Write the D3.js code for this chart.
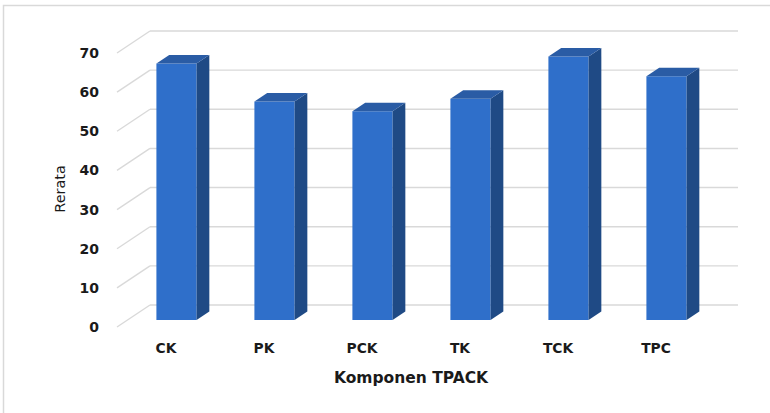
<!DOCTYPE html>
<html>
<head>
<meta charset="utf-8">
<script src="https://cdn.jsdelivr.net/npm/d3@7"></script>
<style>
  html, body { margin: 0; padding: 0; background: #fff; }
  svg { display: block; }
</style>
</head>
<body>
<svg id="chart" width="770" height="413"></svg>
<script>
// Mean score per TPACK component
const categories = ["CK", "PK", "PCK", "TK", "TCK", "TPC"];
const values = [65.5, 55.8, 53.3, 56.5, 67.3, 62.3];
const yTicks = [0, 10, 20, 30, 40, 50, 60, 70];
const xTitle = "Komponen TPACK";
const yTitle = "Rerata";

const svg = d3.select("#chart");
const W = 770, H = 413;

// oblique 3D projection: depth d (px of vertical drop) shifts points left by SLOPE*d
const SLOPE = 1.5;
const FLOOR_D = 22;     // front edge of the floor
const BAR_FRONT = 15;   // front face of each column
const BAR_BACK = 6.5;   // back face of each column
const proj = (x, y, d) => [x - SLOPE * d, y + d];

// scales on the back wall
const x = d3.scaleBand().domain(categories).range([150, 738]).paddingInner(0.59).paddingOuter(0.295);
const y = d3.scaleLinear().domain([0, 70]).range([305, 31]);

// frame
svg.append("rect").attr("width", W).attr("height", H).attr("fill", "#fff");
svg.append("path")
  .attr("d", `M3.5,${H + 5}V5.5H${W + 5}`)
  .attr("fill", "none").attr("stroke", "#d9d9d9").attr("stroke-width", 1.5);

// gridlines: back wall + side wall diagonals
const grid = svg.append("g").attr("stroke", "#d9d9d9").attr("stroke-width", 1.4).attr("fill", "none");
grid.selectAll("line.back").data(yTicks).join("line")
  .attr("class", "back")
  .attr("x1", 150).attr("x2", 738)
  .attr("y1", d => y(d)).attr("y2", d => y(d));
grid.selectAll("line.side").data(yTicks).join("line")
  .attr("class", "side")
  .attr("x1", 150).attr("y1", d => y(d))
  .attr("x2", d => proj(150, y(d), FLOOR_D)[0])
  .attr("y2", d => proj(150, y(d), FLOOR_D)[1]);

// columns
const bars = svg.append("g");
const cols = categories.map((c, i) => ({ c, v: values[i] }));
const g = bars.selectAll("g").data(cols).join("g");

g.append("path") // front face
  .attr("fill", "#2F6FCA")
  .attr("d", d => {
    const xl = x(d.c), xr = x(d.c) + x.bandwidth();
    const a = proj(xl, y(d.v), BAR_FRONT), b = proj(xr, y(d.v), BAR_FRONT);
    const c = proj(xr, y(0), BAR_FRONT), e = proj(xl, y(0), BAR_FRONT);
    return `M${a}L${b}L${c}L${e}Z`;
  });
g.append("path") // right side
  .attr("fill", "#1F4A85")
  .attr("d", d => {
    const xr = x(d.c) + x.bandwidth();
    const a = proj(xr, y(d.v), BAR_FRONT), b = proj(xr, y(d.v), BAR_BACK);
    const c = proj(xr, y(0), BAR_BACK), e = proj(xr, y(0), BAR_FRONT);
    return `M${a}L${b}L${c}L${e}Z`;
  });
g.append("path") // top
  .attr("fill", "#2A5CA5")
  .attr("d", d => {
    const xl = x(d.c), xr = x(d.c) + x.bandwidth();
    const a = proj(xl, y(d.v), BAR_FRONT), b = proj(xr, y(d.v), BAR_FRONT);
    const c = proj(xr, y(d.v), BAR_BACK), e = proj(xl, y(d.v), BAR_BACK);
    return `M${a}L${b}L${c}L${e}Z`;
  });

const font = "'DejaVu Sans', Verdana, sans-serif";

// value axis on the front plane
const yAxis = svg.append("g")
  .attr("transform", `translate(${150 - SLOPE * FLOOR_D},${FLOOR_D})`)
  .call(d3.axisLeft(y).tickValues(yTicks).tickSize(0).tickPadding(18));
yAxis.select(".domain").remove();
yAxis.selectAll("text")
  .attr("font-family", font).attr("font-size", 14).attr("font-weight", "bold").attr("fill", "#1a1a1a");

// category axis on the front plane
const xAxis = svg.append("g")
  .attr("transform", `translate(${-SLOPE * FLOOR_D},${y(0) + FLOOR_D})`)
  .call(d3.axisBottom(x).tickSize(0).tickPadding(16));
xAxis.select(".domain").remove();
xAxis.selectAll("text")
  .attr("font-family", font).attr("font-size", 13.8).attr("font-weight", "bold").attr("fill", "#1a1a1a");

// titles
svg.append("text")
  .attr("x", (150 + 738) / 2 - SLOPE * FLOOR_D).attr("y", 383)
  .attr("text-anchor", "middle")
  .attr("font-family", font).attr("font-size", 15.5).attr("font-weight", "bold").attr("fill", "#1a1a1a")
  .text(xTitle);
svg.append("text")
  .attr("transform", "translate(65,189) rotate(-90)")
  .attr("text-anchor", "middle")
  .attr("font-family", font).attr("font-size", 14.4).attr("fill", "#1a1a1a")
  .text(yTitle);
</script>
</body>
</html>
